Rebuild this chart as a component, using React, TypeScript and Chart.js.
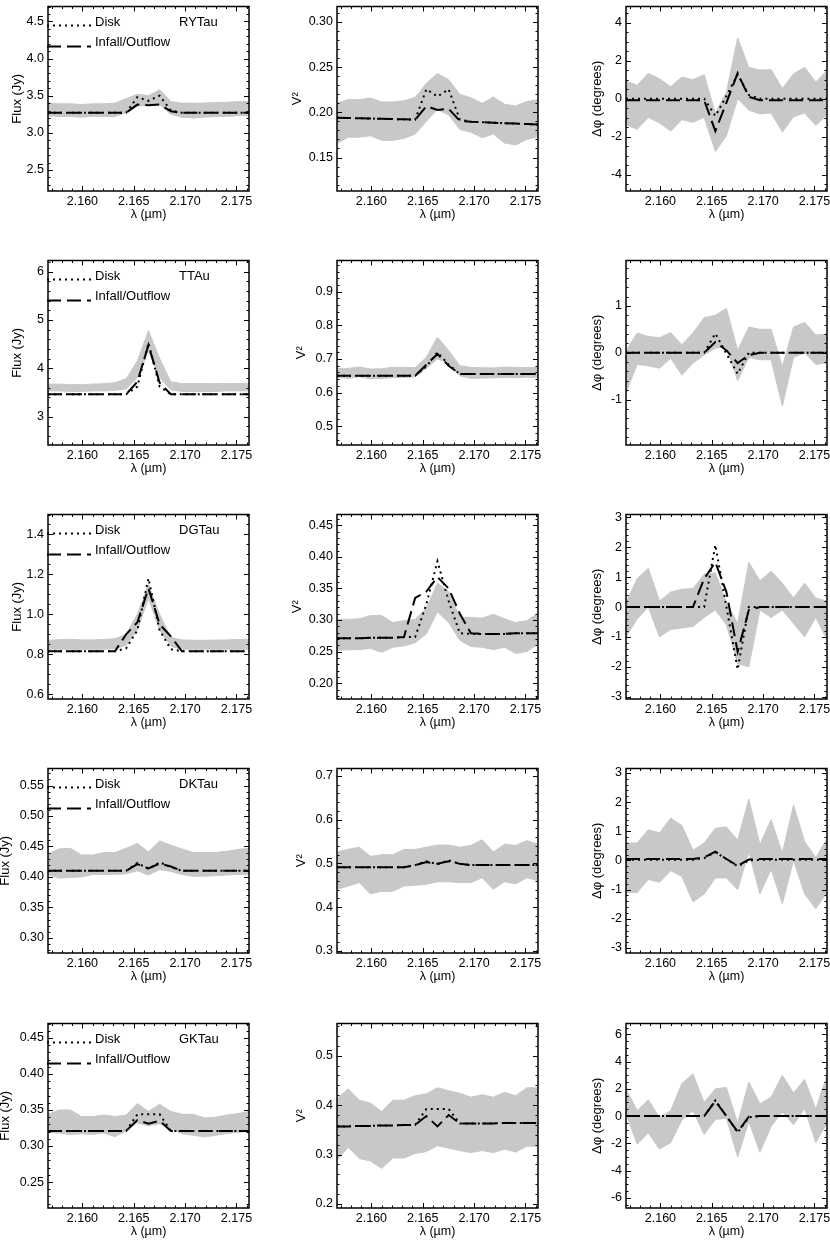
import React, { useEffect, useRef } from "react";
import { Chart, registerables } from "chart.js";

Chart.register(...registerables);

// ---------------- data ----------------
const wavelength = [2.15665, 2.15774, 2.15882, 2.15991, 2.161, 2.16209, 2.16317, 2.16426, 2.16535, 2.16643, 2.16752, 2.16861, 2.16969, 2.17078, 2.17187, 2.17296, 2.17404, 2.17513, 2.17622];
const xTicks = [2.16, 2.165, 2.17, 2.175];
const X_MIN = 2.15665;
const X_MAX = 2.17622;

// RY Tau
const ryFluxUpper = [3.40, 3.39, 3.39, 3.38, 3.39, 3.39, 3.40, 3.46, 3.52, 3.50, 3.58, 3.42, 3.40, 3.40, 3.40, 3.41, 3.41, 3.42, 3.42];
const ryFluxLower = [3.23, 3.22, 3.22, 3.21, 3.22, 3.22, 3.22, 3.27, 3.36, 3.37, 3.38, 3.25, 3.21, 3.20, 3.21, 3.22, 3.22, 3.23, 3.23];
const ryFluxDisk = [3.27, 3.27, 3.27, 3.27, 3.27, 3.27, 3.27, 3.27, 3.48, 3.43, 3.50, 3.30, 3.27, 3.27, 3.27, 3.27, 3.27, 3.27, 3.27];
const ryFluxInfall = [3.27, 3.27, 3.27, 3.27, 3.27, 3.27, 3.27, 3.27, 3.38, 3.37, 3.38, 3.29, 3.27, 3.27, 3.27, 3.27, 3.27, 3.27, 3.27];
const ryV2Upper = [0.2104, 0.214, 0.214, 0.2158, 0.2115, 0.2115, 0.2129, 0.2165, 0.232, 0.243, 0.236, 0.22, 0.216, 0.21, 0.217, 0.209, 0.207, 0.212, 0.214];
const ryV2Lower = [0.1656, 0.1725, 0.1725, 0.174, 0.169, 0.169, 0.171, 0.176, 0.19, 0.203, 0.197, 0.181, 0.178, 0.172, 0.176, 0.166, 0.164, 0.17, 0.173];
const ryV2Disk = [0.194, 0.1937, 0.1934, 0.1931, 0.1928, 0.1925, 0.1922, 0.1918, 0.2255, 0.2175, 0.2255, 0.192, 0.1895, 0.189, 0.1885, 0.188, 0.1875, 0.187, 0.1865];
const ryV2Infall = [0.194, 0.1937, 0.1934, 0.1931, 0.1928, 0.1925, 0.1922, 0.1918, 0.2068, 0.2025, 0.204, 0.1905, 0.1895, 0.189, 0.1885, 0.188, 0.1875, 0.187, 0.1865];
const ryPhaseUpper = [0.93, 0.71, 1.34, 1.05, 0.63, 1.14, 1.0, 1.27, -0.75, 0.35, 3.2, 1.65, 1.51, 1.53, 0.54, 1.31, 1.65, 0.88, 1.48];
const ryPhaseLower = [-1.36, -1.6, -0.98, -1.27, -1.7, -1.1, -1.24, -0.98, -2.77, -1.95, 0.0, -0.6, -0.8, -0.75, -1.75, -0.95, -0.75, -1.4, -0.85];
const ryPhaseDisk = [0, 0, 0, 0, 0, 0, 0, 0, -0.9, 0.15, 1.27, 0.2, 0, 0, 0, 0, 0, 0, 0];
const ryPhaseInfall = [-0.08, -0.08, -0.08, -0.08, -0.08, -0.08, -0.08, -0.08, -1.7, -0.2, 1.35, 0.1, -0.08, -0.08, -0.08, -0.08, -0.08, -0.08, -0.08];

// T Tau
const ttFluxUpper = [3.67, 3.67, 3.66, 3.66, 3.67, 3.68, 3.70, 3.78, 4.15, 4.78, 4.20, 3.72, 3.68, 3.68, 3.68, 3.68, 3.68, 3.68, 3.68];
const ttFluxLower = [3.53, 3.53, 3.52, 3.52, 3.53, 3.53, 3.54, 3.57, 3.80, 4.35, 3.80, 3.55, 3.52, 3.52, 3.52, 3.52, 3.53, 3.53, 3.53];
const ttFluxDisk = [3.46, 3.46, 3.46, 3.46, 3.46, 3.46, 3.46, 3.46, 3.62, 4.52, 3.62, 3.46, 3.46, 3.46, 3.46, 3.46, 3.46, 3.46, 3.46];
const ttFluxInfall = [3.46, 3.46, 3.46, 3.46, 3.46, 3.46, 3.46, 3.46, 3.72, 4.48, 3.70, 3.46, 3.46, 3.46, 3.46, 3.46, 3.46, 3.46, 3.46];
const ttV2Upper = [0.672, 0.672, 0.676, 0.67, 0.671, 0.675, 0.675, 0.674, 0.705, 0.765, 0.725, 0.68, 0.675, 0.674, 0.673, 0.676, 0.675, 0.674, 0.675];
const ttV2Lower = [0.646, 0.642, 0.647, 0.641, 0.642, 0.645, 0.645, 0.647, 0.672, 0.7, 0.688, 0.65, 0.642, 0.643, 0.644, 0.645, 0.644, 0.646, 0.645];
const ttV2Disk = [0.65, 0.65, 0.65, 0.65, 0.65, 0.65, 0.65, 0.65, 0.678, 0.72, 0.683, 0.655, 0.655, 0.655, 0.655, 0.655, 0.655, 0.655, 0.655];
const ttV2Infall = [0.65, 0.65, 0.65, 0.65, 0.65, 0.65, 0.65, 0.65, 0.683, 0.715, 0.68, 0.655, 0.655, 0.655, 0.655, 0.655, 0.655, 0.655, 0.655];
const ttPhaseUpper = [0.05, 0.42, 0.35, 0.32, 0.43, 0.17, 0.42, 0.75, 0.8, 0.95, 0.05, 0.55, 0.5, 0.5, -0.3, 0.55, 0.65, 0.38, 0.4];
const ttPhaseLower = [-0.85, -0.25, -0.28, -0.33, -0.12, -0.48, -0.22, -0.05, 0.1, 0.12, -0.6, -0.1, -0.15, -0.15, -1.14, -0.1, 0.0, -0.25, -0.22];
const ttPhaseDisk = [0, 0, 0, 0, 0, 0, 0, 0, 0.41, -0.02, -0.45, 0.0, 0, 0, 0, 0, 0, 0, 0];
const ttPhaseInfall = [0, 0, 0, 0, 0, 0, 0, 0, 0.23, 0.05, -0.22, -0.05, 0, 0, 0, 0, 0, 0, 0];

// DG Tau
const dgFluxUpper = [0.87, 0.873, 0.875, 0.872, 0.872, 0.874, 0.878, 0.9, 1.0, 1.15, 1.0, 0.885, 0.872, 0.87, 0.87, 0.871, 0.872, 0.874, 0.875];
const dgFluxLower = [0.825, 0.825, 0.825, 0.825, 0.825, 0.825, 0.828, 0.845, 0.92, 1.08, 0.92, 0.84, 0.825, 0.825, 0.825, 0.825, 0.825, 0.825, 0.825];
const dgFluxDisk = [0.815, 0.815, 0.815, 0.815, 0.815, 0.815, 0.815, 0.83, 0.92, 1.18, 0.92, 0.825, 0.815, 0.815, 0.815, 0.815, 0.815, 0.815, 0.815];
const dgFluxInfall = [0.815, 0.815, 0.815, 0.815, 0.815, 0.815, 0.815, 0.9, 0.96, 1.13, 0.95, 0.89, 0.815, 0.815, 0.815, 0.815, 0.815, 0.815, 0.815];
const dgV2Upper = [0.301, 0.301, 0.302, 0.307, 0.307, 0.296, 0.299, 0.301, 0.319, 0.358, 0.345, 0.304, 0.304, 0.303, 0.309, 0.302, 0.296, 0.299, 0.311];
const dgV2Lower = [0.252, 0.253, 0.253, 0.255, 0.249, 0.257, 0.259, 0.264, 0.278, 0.313, 0.296, 0.268, 0.258, 0.257, 0.253, 0.257, 0.247, 0.25, 0.262];
const dgV2Disk = [0.271, 0.271, 0.271, 0.272, 0.272, 0.272, 0.273, 0.273, 0.325, 0.393, 0.33, 0.279, 0.278, 0.278, 0.278, 0.278, 0.279, 0.279, 0.279];
const dgV2Infall = [0.271, 0.271, 0.271, 0.272, 0.272, 0.272, 0.273, 0.335, 0.345, 0.368, 0.35, 0.31, 0.279, 0.278, 0.278, 0.278, 0.279, 0.279, 0.279];
const dgPhaseUpper = [0.15, 0.95, 1.3, 0.2, 0.5, 0.6, 0.62, 1.1, 1.15, 0.15, -0.55, 1.5, 0.88, 1.2, 0.8, 0.3, 0.8, 0.3, 0.2];
const dgPhaseLower = [-1.0, -0.4, 0.0, -1.0, -0.75, -0.7, -0.65, -0.35, -0.1, -0.6, -1.9, -2.0, -0.1, -0.35, -0.1, -0.55, -1.0, -0.35, -1.1];
const dgPhaseDisk = [0, 0, 0, 0, 0, 0, 0, 0, 2.08, 0.0, -2.09, 0.0, 0, 0, 0, 0, 0, 0, 0];
const dgPhaseInfall = [0, 0, 0, 0, 0, 0, 0, 0.95, 1.5, 0.5, -1.5, -0.1, 0, 0, 0, 0, 0, 0, 0];

// DK Tau
const dkFluxUpper = [0.438, 0.446, 0.447, 0.436, 0.436, 0.44, 0.44, 0.447, 0.455, 0.441, 0.459, 0.452, 0.446, 0.44, 0.44, 0.44, 0.442, 0.445, 0.447];
const dkFluxLower = [0.404, 0.398, 0.399, 0.4, 0.404, 0.404, 0.404, 0.405, 0.41, 0.403, 0.412, 0.409, 0.404, 0.401, 0.401, 0.402, 0.403, 0.404, 0.404];
const dkFluxDisk = [0.41, 0.41, 0.41, 0.41, 0.41, 0.41, 0.41, 0.41, 0.423, 0.413, 0.424, 0.416, 0.41, 0.41, 0.41, 0.41, 0.41, 0.41, 0.41];
const dkFluxInfall = [0.41, 0.41, 0.41, 0.41, 0.41, 0.41, 0.41, 0.41, 0.421, 0.414, 0.422, 0.417, 0.41, 0.41, 0.41, 0.41, 0.41, 0.41, 0.41];
const dkV2Upper = [0.526, 0.532, 0.537, 0.516, 0.52, 0.52, 0.532, 0.532, 0.537, 0.542, 0.542, 0.537, 0.541, 0.554, 0.526, 0.544, 0.541, 0.552, 0.544];
const dkV2Lower = [0.441, 0.448, 0.456, 0.43, 0.436, 0.436, 0.448, 0.45, 0.452, 0.458, 0.458, 0.456, 0.456, 0.467, 0.441, 0.458, 0.453, 0.467, 0.461];
const dkV2Disk = [0.491, 0.491, 0.491, 0.491, 0.491, 0.491, 0.491, 0.496, 0.505, 0.498, 0.507, 0.499, 0.496, 0.496, 0.496, 0.496, 0.496, 0.496, 0.496];
const dkV2Infall = [0.491, 0.491, 0.491, 0.491, 0.491, 0.491, 0.491, 0.496, 0.503, 0.499, 0.505, 0.499, 0.496, 0.496, 0.496, 0.496, 0.496, 0.496, 0.496];
const dkPhaseUpper = [0.6, 0.6, 1.05, 0.95, 1.45, 1.2, 0.35, 0.6, 1.1, 1.15, 0.7, 2.1, 0.55, 1.4, 0.25, 1.9, 0.65, 0.1, 0.75];
const dkPhaseLower = [-1.1, -1.1, -0.65, -0.75, -0.35, -0.55, -1.42, -1.15, -0.6, -0.6, -1.0, 0.3, -1.15, -0.3, -1.48, 0.0, -1.15, -1.65, -1.1];
const dkPhaseDisk = [0.02, 0.02, 0.02, 0.02, 0.02, 0.02, 0.02, 0.08, 0.28, 0.05, -0.2, 0.0, 0.02, 0.02, 0.02, 0.02, 0.02, 0.02, 0.02];
const dkPhaseInfall = [0.05, 0.05, 0.05, 0.05, 0.05, 0.05, 0.05, 0.1, 0.3, 0.05, -0.18, 0.03, 0.05, 0.05, 0.05, 0.05, 0.05, 0.05, 0.05];

// GK Tau
const gkFluxUpper = [0.344, 0.35, 0.35, 0.341, 0.341, 0.343, 0.341, 0.343, 0.359, 0.348, 0.358, 0.348, 0.344, 0.344, 0.339, 0.34, 0.343, 0.345, 0.348];
const gkFluxLower = [0.319, 0.318, 0.316, 0.317, 0.316, 0.318, 0.313, 0.321, 0.332, 0.328, 0.331, 0.324, 0.317, 0.315, 0.3125, 0.315, 0.317, 0.319, 0.32];
const gkFluxDisk = [0.321, 0.321, 0.321, 0.321, 0.321, 0.321, 0.321, 0.321, 0.344, 0.344, 0.344, 0.321, 0.321, 0.321, 0.321, 0.321, 0.321, 0.321, 0.321];
const gkFluxInfall = [0.321, 0.321, 0.321, 0.321, 0.321, 0.321, 0.321, 0.321, 0.336, 0.331, 0.335, 0.321, 0.321, 0.321, 0.321, 0.321, 0.321, 0.321, 0.321];
const gkV2Upper = [0.413, 0.433, 0.41, 0.404, 0.387, 0.41, 0.41, 0.419, 0.423, 0.435, 0.429, 0.424, 0.416, 0.421, 0.416, 0.426, 0.419, 0.435, 0.435];
const gkV2Lower = [0.288, 0.315, 0.292, 0.287, 0.272, 0.293, 0.293, 0.302, 0.306, 0.318, 0.313, 0.308, 0.304, 0.308, 0.304, 0.311, 0.305, 0.317, 0.317];
const gkV2Disk = [0.357, 0.357, 0.358, 0.358, 0.359, 0.359, 0.36, 0.36, 0.392, 0.392, 0.392, 0.363, 0.363, 0.363, 0.363, 0.364, 0.364, 0.364, 0.364];
const gkV2Infall = [0.357, 0.357, 0.358, 0.358, 0.359, 0.359, 0.36, 0.36, 0.378, 0.357, 0.38, 0.363, 0.363, 0.363, 0.363, 0.364, 0.364, 0.364, 0.364];
const gkPhaseUpper = [2.0, 0.4, 1.2, -0.1, 0.4, 2.4, 3.1, 1.0, 2.0, 2.1, -0.5, 2.5, 0.9, 1.4, 3.0, 1.7, 2.7, 0.5, 3.0];
const gkPhaseLower = [0.2, -2.07, -1.24, -2.42, -1.95, -0.3, 0.4, -1.35, -0.24, -0.17, -3.0, -0.4, -2.66, -0.76, 0.3, -0.64, 0.55, -1.95, -0.52];
const gkPhaseDisk = [0, 0, 0, 0, 0, 0, 0, 0, 1.15, 0.0, -1.2, -0.1, 0, 0, 0, 0, 0, 0, 0];
const gkPhaseInfall = [0, 0, 0, 0, 0, 0, 0, 0, 1.1, 0.0, -1.15, -0.05, 0, 0, 0, 0, 0, 0, 0];

// y tick labels
const ryFluxTicks = [2.5, 3.0, 3.5, 4.0, 4.5];
const ryV2Ticks = [0.15, 0.2, 0.25, 0.3];
const ryPhaseTicks = [-4, -2, 0, 2, 4];
const ttFluxTicks = [3, 4, 5, 6];
const ttV2Ticks = [0.5, 0.6, 0.7, 0.8, 0.9];
const ttPhaseTicks = [-1, 0, 1];
const dgFluxTicks = [0.6, 0.8, 1.0, 1.2, 1.4];
const dgV2Ticks = [0.2, 0.25, 0.3, 0.35, 0.4, 0.45];
const dgPhaseTicks = [-3, -2, -1, 0, 1, 2, 3];
const dkFluxTicks = [0.3, 0.35, 0.4, 0.45, 0.5, 0.55];
const dkV2Ticks = [0.3, 0.4, 0.5, 0.6, 0.7];
const dkPhaseTicks = [-3, -2, -1, 0, 1, 2, 3];
const gkFluxTicks = [0.25, 0.3, 0.35, 0.4, 0.45];
const gkV2Ticks = [0.2, 0.3, 0.4, 0.5];
const gkPhaseTicks = [-6, -4, -2, 0, 2, 4, 6];

const starNames = ["RYTau", "TTAu", "DGTau", "DKTau", "GKTau"];

// ---------------- layout ----------------
const FONT = '"Liberation Sans", Arial, Helvetica, sans-serif';
const GRAY = "#c8c8c8";
const COL_LEFT = [48, 337, 626];
const ROW_TOP = [1, 255, 509, 763, 1018];
const PLOT_W = 201;
const PLOT_H = 190;
const AX_W = 56;
const AX_H = 36;
const PAD_T = 6;
const PAD_R = 8;

type Panel = {
  key: string; row: number; col: number;
  upper: number[]; lower: number[]; disk: number[]; infall: number[];
  yMin: number; yMax: number; yTicks: number[]; decimals: number; minorStep: number;
  title: string; titleOffset: number;
};

const panels: Panel[] = [
  { key: "ry-f", row: 0, col: 0, upper: ryFluxUpper, lower: ryFluxLower, disk: ryFluxDisk, infall: ryFluxInfall, yMin: 2.217, yMax: 4.7, yTicks: ryFluxTicks, decimals: 1, minorStep: 0.1, title: "Flux (Jy)", titleOffset: -31 },
  { key: "ry-v", row: 0, col: 1, upper: ryV2Upper, lower: ryV2Lower, disk: ryV2Disk, infall: ryV2Infall, yMin: 0.113, yMax: 0.317, yTicks: ryV2Ticks, decimals: 2, minorStep: 0.01, title: "V²", titleOffset: -39.5 },
  { key: "ry-p", row: 0, col: 2, upper: ryPhaseUpper, lower: ryPhaseLower, disk: ryPhaseDisk, infall: ryPhaseInfall, yMin: -4.85, yMax: 4.85, yTicks: ryPhaseTicks, decimals: 0, minorStep: 0.5, title: "Δφ (degrees)", titleOffset: -28.5 },
  { key: "tt-f", row: 1, col: 0, upper: ttFluxUpper, lower: ttFluxLower, disk: ttFluxDisk, infall: ttFluxInfall, yMin: 2.41, yMax: 6.23, yTicks: ttFluxTicks, decimals: 0, minorStep: 0.2, title: "Flux (Jy)", titleOffset: -31 },
  { key: "tt-v", row: 1, col: 1, upper: ttV2Upper, lower: ttV2Lower, disk: ttV2Disk, infall: ttV2Infall, yMin: 0.444, yMax: 0.993, yTicks: ttV2Ticks, decimals: 1, minorStep: 0.02, title: "V²", titleOffset: -36 },
  { key: "tt-p", row: 1, col: 2, upper: ttPhaseUpper, lower: ttPhaseLower, disk: ttPhaseDisk, infall: ttPhaseInfall, yMin: -1.97, yMax: 1.97, yTicks: ttPhaseTicks, decimals: 0, minorStep: 0.2, title: "Δφ (degrees)", titleOffset: -28.5 },
  { key: "dg-f", row: 2, col: 0, upper: dgFluxUpper, lower: dgFluxLower, disk: dgFluxDisk, infall: dgFluxInfall, yMin: 0.576, yMax: 1.5, yTicks: dgFluxTicks, decimals: 1, minorStep: 0.05, title: "Flux (Jy)", titleOffset: -31 },
  { key: "dg-v", row: 2, col: 1, upper: dgV2Upper, lower: dgV2Lower, disk: dgV2Disk, infall: dgV2Infall, yMin: 0.175, yMax: 0.467, yTicks: dgV2Ticks, decimals: 2, minorStep: 0.01, title: "V²", titleOffset: -39.5 },
  { key: "dg-p", row: 2, col: 2, upper: dgPhaseUpper, lower: dgPhaseLower, disk: dgPhaseDisk, infall: dgPhaseInfall, yMin: -3.08, yMax: 3.1, yTicks: dgPhaseTicks, decimals: 0, minorStep: 0.2, title: "Δφ (degrees)", titleOffset: -28.5 },
  { key: "dk-f", row: 3, col: 0, upper: dkFluxUpper, lower: dkFluxLower, disk: dkFluxDisk, infall: dkFluxInfall, yMin: 0.275, yMax: 0.578, yTicks: dkFluxTicks, decimals: 2, minorStep: 0.01, title: "Flux (Jy)", titleOffset: -42.5 },
  { key: "dk-v", row: 3, col: 1, upper: dkV2Upper, lower: dkV2Lower, disk: dkV2Disk, infall: dkV2Infall, yMin: 0.295, yMax: 0.717, yTicks: dkV2Ticks, decimals: 1, minorStep: 0.02, title: "V²", titleOffset: -36 },
  { key: "dk-p", row: 3, col: 2, upper: dkPhaseUpper, lower: dkPhaseLower, disk: dkPhaseDisk, infall: dkPhaseInfall, yMin: -3.17, yMax: 3.15, yTicks: dkPhaseTicks, decimals: 0, minorStep: 0.2, title: "Δφ (degrees)", titleOffset: -28.5 },
  { key: "gk-f", row: 4, col: 0, upper: gkFluxUpper, lower: gkFluxLower, disk: gkFluxDisk, infall: gkFluxInfall, yMin: 0.214, yMax: 0.47, yTicks: gkFluxTicks, decimals: 2, minorStep: 0.01, title: "Flux (Jy)", titleOffset: -42.5 },
  { key: "gk-v", row: 4, col: 1, upper: gkV2Upper, lower: gkV2Lower, disk: gkV2Disk, infall: gkV2Infall, yMin: 0.192, yMax: 0.565, yTicks: gkV2Ticks, decimals: 1, minorStep: 0.02, title: "V²", titleOffset: -36 },
  { key: "gk-p", row: 4, col: 2, upper: gkPhaseUpper, lower: gkPhaseLower, disk: gkPhaseDisk, infall: gkPhaseInfall, yMin: -6.75, yMax: 6.8, yTicks: gkPhaseTicks, decimals: 0, minorStep: 0.5, title: "Δφ (degrees)", titleOffset: -28.5 },
];

function makeDecor(p: Panel) {
  return {
    id: "decor-" + p.key,
    afterDraw(chart: any) {
      const ctx = chart.ctx;
      const a = chart.chartArea;
      const xs = chart.scales.x;
      const ys = chart.scales.y;
      ctx.save();
      ctx.strokeStyle = "#000";
      ctx.fillStyle = "#000";
      ctx.setLineDash([]);
      ctx.lineWidth = 1;
      const tx = (v: number, len: number) => {
        const px = Math.round(xs.getPixelForValue(v)) + 0.5;
        ctx.beginPath();
        ctx.moveTo(px, a.bottom); ctx.lineTo(px, a.bottom - len);
        ctx.moveTo(px, a.top); ctx.lineTo(px, a.top + len);
        ctx.stroke();
      };
      const ty = (v: number, len: number) => {
        const py = Math.round(ys.getPixelForValue(v)) + 0.5;
        ctx.beginPath();
        ctx.moveTo(a.left, py); ctx.lineTo(a.left + len, py);
        ctx.moveTo(a.right, py); ctx.lineTo(a.right - len, py);
        ctx.stroke();
      };
      const xStep = 0.001;
      for (let n = Math.ceil(X_MIN / xStep - 1e-6); n * xStep <= X_MAX + 1e-9; n++) tx(n * xStep, 2.5);
      xTicks.forEach((v) => tx(v, 5));
      for (let n = Math.ceil(p.yMin / p.minorStep - 1e-6); n * p.minorStep <= p.yMax + 1e-9; n++) ty(n * p.minorStep, 2.5);
      p.yTicks.forEach((v) => ty(v, 5));

      ctx.lineWidth = 1.5;
      ctx.strokeRect(a.left, a.top, a.right - a.left, a.bottom - a.top);

      // y title
      ctx.save();
      ctx.font = "13px " + FONT;
      ctx.textAlign = "center";
      ctx.textBaseline = "middle";
      ctx.translate(a.left + p.titleOffset, (a.top + a.bottom) / 2);
      ctx.rotate(-Math.PI / 2);
      ctx.fillText(p.title, 0, 0);
      ctx.restore();

      // x title
      ctx.font = "12.5px " + FONT;
      ctx.textAlign = "center";
      ctx.textBaseline = "middle";
      ctx.fillText("λ (µm)", (a.left + a.right) / 2, a.bottom + 24);

      // legend in the flux panels
      if (p.col === 0) {
        ctx.lineWidth = 2;
        ctx.setLineDash([2, 4]);
        ctx.beginPath();
        ctx.moveTo(a.left - 1, a.top + 19);
        ctx.lineTo(a.left + 43, a.top + 19);
        ctx.stroke();
        ctx.setLineDash([14, 6]);
        ctx.beginPath();
        ctx.moveTo(a.left - 1, a.top + 40);
        ctx.lineTo(a.left + 43, a.top + 40);
        ctx.stroke();
        ctx.setLineDash([]);
        ctx.font = "13px " + FONT;
        ctx.textAlign = "left";
        ctx.textBaseline = "middle";
        ctx.fillText("Disk", a.left + 47, a.top + 16);
        ctx.fillText("Infall/Outflow", a.left + 47, a.top + 36);
        ctx.fillText(starNames[p.row], a.left + 131, a.top + 16);
      }
      ctx.restore();
    },
  };
}

function PanelChart({ p }: { p: Panel }) {
  const ref = useRef<HTMLCanvasElement | null>(null);
  const width = AX_W + PLOT_W + PAD_R;
  const height = PAD_T + PLOT_H + AX_H;
  useEffect(() => {
    if (!ref.current) return;
    const pts = (vals: number[]) => wavelength.map((x, i) => ({ x, y: vals[i] }));
    const tickFont = { family: FONT, size: 12.5 };
    const chart = new Chart(ref.current, {
      type: "line",
      data: {
        datasets: [
          { label: "Disk", data: pts(p.disk), borderColor: "#000", borderWidth: 2, borderDash: [2, 4], pointRadius: 0, fill: false, tension: 0 },
          { label: "Infall/Outflow", data: pts(p.infall), borderColor: "#000", borderWidth: 2, borderDash: [14, 6], pointRadius: 0, fill: false, tension: 0 },
          { label: "Observed (upper)", data: pts(p.upper), borderColor: GRAY, borderWidth: 1, backgroundColor: GRAY, pointRadius: 0, fill: "+1", tension: 0 },
          { label: "Observed (lower)", data: pts(p.lower), borderColor: GRAY, borderWidth: 1, backgroundColor: GRAY, pointRadius: 0, fill: false, tension: 0 },
        ],
      } as any,
      options: {
        animation: false,
        responsive: false,
        maintainAspectRatio: false,
        events: [],
        layout: { padding: { left: 0, right: PAD_R, top: PAD_T, bottom: 0 } },
        plugins: { legend: { display: false }, tooltip: { enabled: false } },
        scales: {
          x: {
            type: "linear",
            min: X_MIN,
            max: X_MAX,
            afterBuildTicks: (s: any) => { s.ticks = xTicks.map((v) => ({ value: v })); },
            afterFit: (s: any) => { s.height = AX_H; },
            ticks: { callback: (v: any) => Number(v).toFixed(3), font: tickFont, color: "#000", padding: 3.5, autoSkip: false, maxRotation: 0, minRotation: 0 },
            grid: { display: false, drawTicks: false },
            border: { display: false },
          },
          y: {
            type: "linear",
            min: p.yMin,
            max: p.yMax,
            afterBuildTicks: (s: any) => { s.ticks = p.yTicks.map((v) => ({ value: v })); },
            afterFit: (s: any) => { s.width = AX_W; },
            ticks: { callback: (v: any) => Number(v).toFixed(p.decimals), font: tickFont, color: "#000", padding: 4, autoSkip: false },
            grid: { display: false, drawTicks: false },
            border: { display: false },
          },
        },
      } as any,
      plugins: [makeDecor(p)],
    });
    return () => chart.destroy();
  }, [p]);
  return (
    <canvas
      ref={ref}
      width={width}
      height={height}
      style={{ position: "absolute", left: COL_LEFT[p.col] - AX_W, top: ROW_TOP[p.row] - PAD_T, width, height }}
    />
  );
}

export default function App() {
  return (
    <div style={{ position: "absolute", left: 0, top: 0, width: 830, height: 1242, overflow: "hidden", background: "#fff" }}>
      {panels.map((p) => (
        <PanelChart key={p.key} p={p} />
      ))}
    </div>
  );
}
